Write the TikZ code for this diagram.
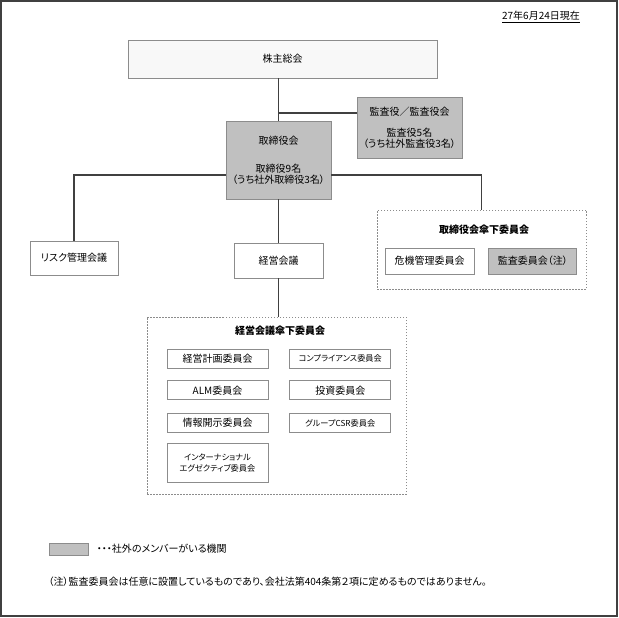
\documentclass[tikz,border=0pt]{standalone}
\usepackage{fontspec}
\newfontfamily\jp{Noto Sans CJK JP}[RawFeature={+palt}]
\usetikzlibrary{positioning}
\definecolor{extgray}{HTML}{C0C0C0}
\definecolor{topfill}{HTML}{F8F8F8}
\definecolor{boxline}{HTML}{8C8C8C}
\definecolor{linecol}{HTML}{404040}
\tikzstyle{org} = [rectangle, draw=boxline, fill=white, align=center,
    inner sep=0pt, line width=0.8pt]
\tikzstyle{ext} = [org, fill=extgray]
\tikzstyle{comm} = [org, minimum width=101pt, minimum height=19pt]
\tikzstyle{small} = [font=\jp\fontsize{8.2}{10.5}\selectfont]
\tikzstyle{grp} = [rectangle, draw=boxline, line width=0.6pt,
    dash pattern=on 1.5pt off 1.5pt]
\tikzstyle{grptitle} = [font=\jp\bfseries\fontsize{10}{11}\selectfont]
\tikzstyle{conn} = [draw=linecol, line width=1.5pt]

\begin{document}
\begin{tikzpicture}[x=1pt,y=-1pt,font=\jp\fontsize{10}{11}\selectfont]
  \useasboundingbox (0,0) rectangle (619,618);
  \draw[linecol, line width=1.8pt] (1,1) rectangle (617,616);

  \node (date) at (541,17) {\underline{27年6月24日現在}};

  % top of the organisation
  \node[org,fill=topfill,minimum width=309pt,minimum height=38pt] (kabu) at (282.5,59) {株主総会};
  \node[ext,minimum width=105pt,minimum height=61pt] (kansa) at (409.5,127.5)
      {監査役／監査役会\\[10pt]監査役5名\\（うち社外監査役3名）};
  \node[ext,minimum width=105pt,minimum height=78pt] (tori) at (278.5,160)
      {取締役会\\[17pt]取締役9名\\（うち社外取締役3名）};
  \node[org,minimum width=88pt,minimum height=34pt] (risk) at (74,258) {リスク管理会議};
  \node[org,minimum width=89pt,minimum height=35pt] (keiei) at (278.5,260.5) {経営会議};

  % committees under the board
  \node[grp,minimum width=209pt,minimum height=79pt] (kasaA) at (481.5,249.5) {};
  \node[grptitle] (titleA) at (484,230) {取締役会傘下委員会};
  \node[org,minimum width=89pt,minimum height=26pt] (kiki) at (429.5,261) {危機管理委員会};
  \node[ext,minimum width=88pt,minimum height=26pt] (audit) [right=14pt of kiki] {監査委員会（注）};

  % committees under the management meeting
  \node[grp,minimum width=259pt,minimum height=177pt] (kasaB) at (276.5,405.5) {};
  \node[grptitle] (titleB) at (280,331) {経営会議傘下委員会};
  \node[comm] (plan) at (217.5,358.5) {経営計画委員会};
  \node[comm] (alm) [below=12pt of plan] {ALM委員会};
  \node[comm] (disc) [below=13pt of alm] {情報開示委員会};
  \node[comm,small,minimum height=39pt] (intl) [below=10pt of disc]
      {インターナショナル\\エグゼクティブ委員会};
  \node[comm,small] (comp) [right=21pt of plan] {コンプライアンス委員会};
  \node[comm] (inv) [right=21pt of alm] {投資委員会};
  \node[comm,small] (csr) [right=21pt of disc] {グループCSR委員会};

  \draw[conn] (kabu.south -| tori.north) -- (tori.north);
  \draw[conn] ([yshift=14.5pt]kansa.west -| tori.north) -- ([yshift=14.5pt]kansa.west);
  \draw[conn] (risk.north) |- ([yshift=-15pt]tori.west);
  \draw[conn] ([yshift=-15pt]tori.east) -| (kasaA.north);
  \draw[conn] (tori.south) -- (keiei.north);
  \draw[conn] (keiei.south) -- (keiei.south |- kasaB.north);

  % legend and note
  \node[ext,minimum width=39pt,minimum height=12pt] (legbox) at (68.5,549) {};
  \node (legtext) [right=5pt of legbox] {・・・社外のメンバーがいる機関};
  \node[anchor=west] (note) at (45,582)
      {（注）監査委員会は任意に設置しているものであり、会社法第404条第２項に定めるものではありません。};
\end{tikzpicture}
\end{document}
